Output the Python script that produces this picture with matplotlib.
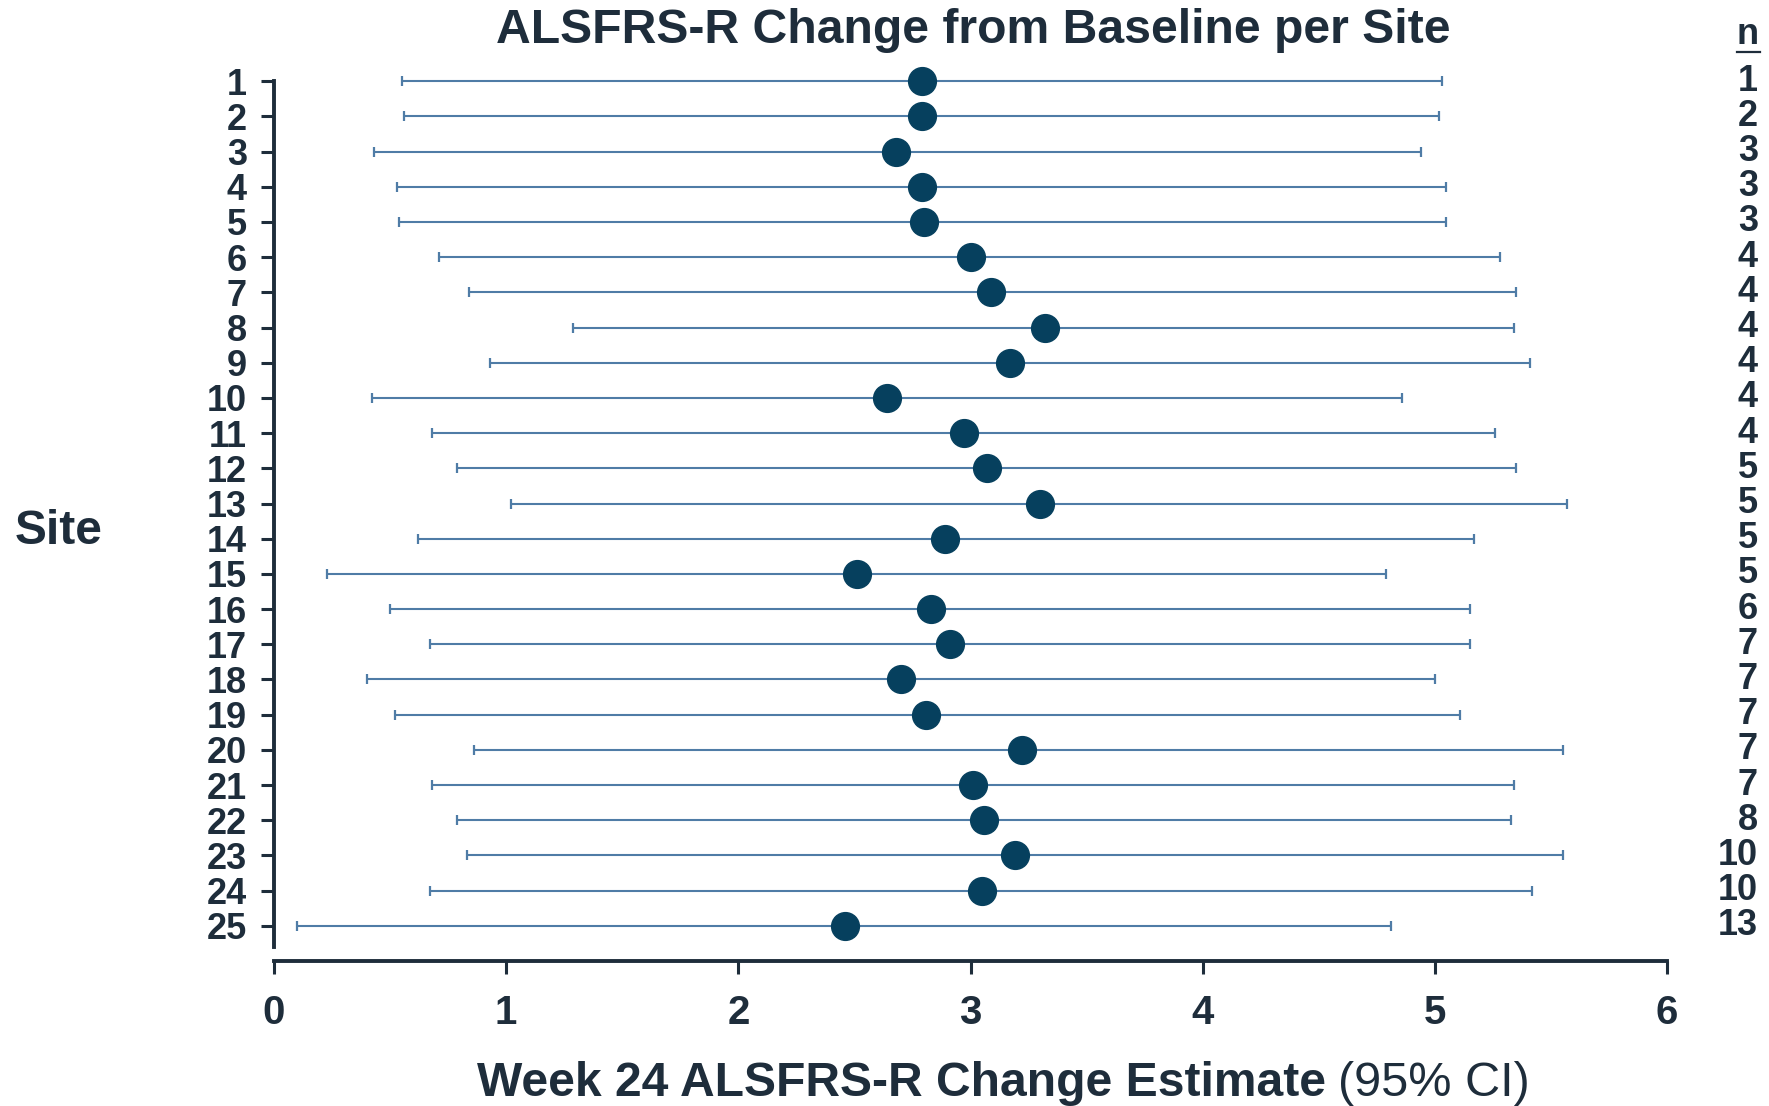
import matplotlib
matplotlib.use("Agg")
import matplotlib.pyplot as plt
from matplotlib.lines import Line2D
from matplotlib.transforms import blended_transform_factory

plt.rcParams["font.family"] = ["Liberation Sans", "DejaVu Sans"]

# Week 24 change estimate and 95% CI per site
sites    = list(range(1, 26))
estimate = [2.79, 2.79, 2.68, 2.79, 2.80, 3.00, 3.09, 3.32, 3.17, 2.64,
            2.97, 3.07, 3.30, 2.89, 2.51, 2.83, 2.91, 2.70, 2.81, 3.22,
            3.01, 3.06, 3.19, 3.05, 2.46]
ci_low   = [0.55, 0.56, 0.43, 0.53, 0.54, 0.71, 0.84, 1.29, 0.93, 0.42,
            0.68, 0.79, 1.02, 0.62, 0.23, 0.50, 0.67, 0.40, 0.52, 0.86,
            0.68, 0.79, 0.83, 0.67, 0.10]
ci_high  = [5.03, 5.02, 4.94, 5.05, 5.05, 5.28, 5.35, 5.34, 5.41, 4.86,
            5.26, 5.35, 5.57, 5.17, 4.79, 5.15, 5.15, 5.00, 5.11, 5.55,
            5.34, 5.33, 5.55, 5.42, 4.81]
n_pts    = [1, 2, 3, 3, 3, 4, 4, 4, 4, 4, 4, 5, 5, 5, 5, 6, 7, 7, 7, 7,
            7, 8, 10, 10, 13]
x_ticks  = [0, 1, 2, 3, 4, 5, 6]

TEXT  = "#1e2d3b"
DOT   = "#06405e"
WHISK = "#4f7ca6"

W, H = 1769, 1106
fig = plt.figure(figsize=(W / 100, H / 100), dpi=100)
ax = fig.add_axes([274 / W, 1 - 961 / H, (1667 - 274) / W, (961 - 46) / H])

err = [[e - lo for e, lo in zip(estimate, ci_low)],
       [hi - e for e, hi in zip(estimate, ci_high)]]
ax.errorbar(estimate, sites, xerr=err, fmt="none", ecolor=WHISK,
            elinewidth=1.5, capsize=3.6, capthick=1.6, zorder=2)
ax.plot(estimate, sites, "o", color=DOT, markersize=20, zorder=3)

ax.set_xlim(0, 6)
ax.set_ylim(26.0, 0.0)
ax.set_xticks(x_ticks)
ax.set_yticks(sites)
ax.set_yticklabels([str(s) for s in sites])

for side in ("top", "right"):
    ax.spines[side].set_visible(False)
for side in ("left", "bottom"):
    ax.spines[side].set_linewidth(2.8)
    ax.spines[side].set_color(TEXT)
ax.spines["left"].set_bounds(1, 25.6)

ax.tick_params(axis="y", length=9.5, width=2.2, color=TEXT, pad=10,
               labelsize=26, labelcolor=TEXT)
ax.tick_params(axis="x", length=9.5, width=2.2, color=TEXT, pad=14,
               labelsize=29, labelcolor=TEXT)
for lbl in ax.get_xticklabels() + ax.get_yticklabels():
    lbl.set_fontweight("bold")

# per-site sample sizes on the right
trans = blended_transform_factory(fig.transFigure, ax.transData)
for s, n in zip(sites, n_pts):
    ax.text(1758 / W, s, str(n), transform=trans, ha="right", va="center",
            fontsize=26, fontweight="bold", color=TEXT, clip_on=False)
fig.text(1748 / W, 1 - 44 / H, "n", ha="center", va="baseline",
         fontsize=26, fontweight="bold", color=TEXT)
fig.add_artist(Line2D([1737 / W, 1760 / W], [1 - 52 / H, 1 - 52 / H],
                      transform=fig.transFigure, color=TEXT, lw=1.6))

fig.text(973 / W, 1 - 43 / H, "ALSFRS-R Change from Baseline per Site",
         ha="center", va="baseline", fontsize=34.7, fontweight="bold", color=TEXT)
fig.text(59 / W, 1 - 544 / H, "Site", ha="center", va="baseline",
         fontsize=34.5, fontweight="bold", color=TEXT)
fig.text(1326 / W, 1 - 1096 / H, "Week 24 ALSFRS-R Change Estimate",
         ha="right", va="baseline", fontsize=34.6, fontweight="bold", color=TEXT)
fig.text(1338 / W, 1 - 1096 / H, "(95% CI)",
         ha="left", va="baseline", fontsize=35, color=TEXT)

fig.savefig("out.png", dpi=100)
